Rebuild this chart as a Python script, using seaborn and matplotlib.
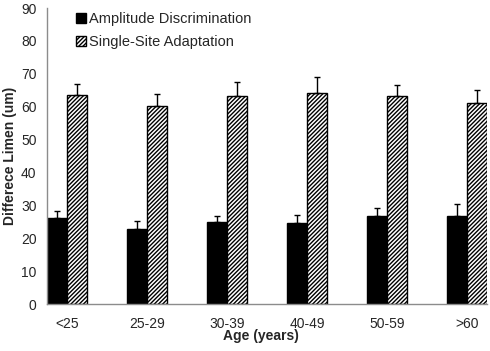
import seaborn as sns
import matplotlib.pyplot as plt
import pandas as pd
import numpy as np

ages = ["<25", "25-29", "30-39", "40-49", "50-59", ">60"]
amp_disc = [26.0, 22.8, 24.8, 24.5, 26.7, 26.7]
amp_disc_err = [2.3, 2.4, 2.0, 2.5, 2.4, 3.6]
single_site = [63.5, 60.2, 63.2, 64.1, 63.2, 61.0]
single_site_err = [3.4, 3.7, 4.3, 4.9, 3.5, 4.2]
series = ["Amplitude Discrimination", "Single-Site Adaptation"]

df = pd.DataFrame({
    "Age": ages * 2,
    "Measure": [series[0]] * len(ages) + [series[1]] * len(ages),
    "Value": amp_disc + single_site,
})
errors = {series[0]: amp_disc_err, series[1]: single_site_err}

sns.set_style("white")
plt.rcParams["font.family"] = ["Liberation Sans", "DejaVu Sans"]
plt.rcParams["hatch.linewidth"] = 1.0

fig, ax = plt.subplots(figsize=(4.9, 3.51), dpi=100)
sns.barplot(data=df, x="Age", y="Value", hue="Measure", hue_order=series,
            palette=["black", "white"], width=0.5, gap=0, legend=False,
            edgecolor="black", linewidth=1, ax=ax, errorbar=None)

# hatch the second series
for p in ax.containers[1].patches:
    p.set_hatch("////////")

# one-sided error bars on top of each bar
for cont, name in zip(ax.containers, series):
    xs = [p.get_x() + p.get_width() / 2 for p in cont.patches]
    hs = [p.get_height() for p in cont.patches]
    err = errors[name]
    ax.errorbar(xs, hs, yerr=[np.zeros(len(err)), err], fmt="none",
                ecolor="black", elinewidth=1, capsize=2, capthick=1)

ax.set_ylim(0, 90)
ax.set_yticks(range(0, 91, 10))
ax.set_xlim(-0.25, len(ages) - 0.75)

# tick marks at the group edges, labels at the group centres
edges = [i - 0.25 for i in range(len(ages))] + [i + 0.25 for i in range(len(ages))]
ax.set_xticks(edges, minor=True)
ax.tick_params(axis="x", which="major", length=0, pad=9, labelsize=10)
ax.tick_params(axis="x", which="minor", length=4, color="#8c8c8c", width=1)
ax.tick_params(axis="y", length=4, color="#8c8c8c", width=1, labelsize=10)

for s in ["top", "right"]:
    ax.spines[s].set_visible(False)
for s in ["left", "bottom"]:
    ax.spines[s].set_color("#8c8c8c")
    ax.spines[s].set_linewidth(1)

ax.set_xlabel("Age (years)", fontweight="bold", fontsize=10, labelpad=1)
ax.xaxis.set_label_coords(0.487, -0.085)
ax.set_ylabel("Differece Limen (um)", fontweight="bold", fontsize=10, labelpad=3)

ax.legend(handles=[ax.containers[0].patches[0], ax.containers[1].patches[0]],
          labels=series, loc="upper left", bbox_to_anchor=(0.035, 1.03),
          frameon=False, fontsize=10.5, handlelength=0.7, handleheight=0.7,
          handletextpad=0.2, labelspacing=0.6)

fig.subplots_adjust(left=47 / 490, right=487 / 490, top=1 - 8 / 351, bottom=1 - 304 / 351)
fig.savefig("out.png", dpi=100)
